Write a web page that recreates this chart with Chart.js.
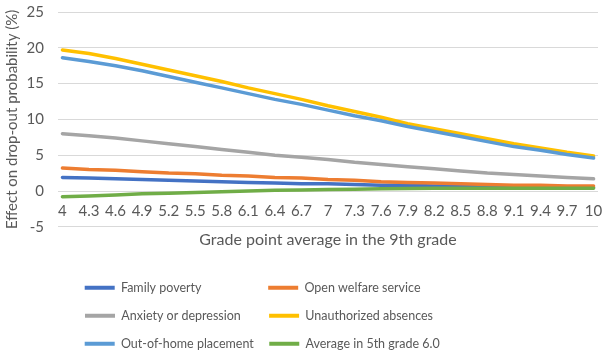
<!DOCTYPE html>
<html>
<head>
<meta charset="utf-8">
<script src="https://cdn.jsdelivr.net/npm/chart.js@4.4.1/dist/chart.umd.min.js"></script>
<style>
  html, body { margin: 0; padding: 0; background: #fff; }
</style>
</head>
<body>
<canvas id="dropoutChart" width="606" height="358"></canvas>
<script>
// grade point average in the 9th grade (labelled x positions)
const gradePoints = [4, 4.3, 4.6, 4.9, 5.2, 5.5, 5.8, 6.1, 6.4, 6.7, 7, 7.3, 7.6, 7.9, 8.2, 8.5, 8.8, 9.1, 9.4, 9.7, 10];

// effect on drop-out probability (%), read at each labelled grade
const familyPoverty = [1.9, 1.8, 1.7, 1.6, 1.5, 1.4, 1.3, 1.2, 1.1, 1.0, 1.0, 0.9, 0.8, 0.8, 0.7, 0.7, 0.6, 0.6, 0.5, 0.5, 0.5];
const openWelfare = [3.2, 3.0, 2.9, 2.7, 2.5, 2.4, 2.2, 2.1, 1.9, 1.8, 1.6, 1.5, 1.3, 1.2, 1.1, 1.0, 0.9, 0.8, 0.8, 0.7, 0.7];
const anxietyDepression = [8.0, 7.7, 7.4, 7.0, 6.6, 6.2, 5.8, 5.4, 5.0, 4.7, 4.4, 4.0, 3.7, 3.4, 3.1, 2.8, 2.5, 2.3, 2.1, 1.9, 1.7];
const unauthorizedAbsences = [19.7, 19.2, 18.5, 17.7, 16.9, 16.1, 15.3, 14.4, 13.6, 12.8, 11.9, 11.1, 10.3, 9.4, 8.7, 8.0, 7.3, 6.6, 6.0, 5.4, 4.9];
const outOfHome = [18.6, 18.1, 17.5, 16.8, 16.0, 15.2, 14.4, 13.6, 12.8, 12.1, 11.3, 10.5, 9.8, 9.0, 8.3, 7.6, 6.9, 6.2, 5.7, 5.1, 4.6];
const average5th = [-0.8, -0.7, -0.55, -0.4, -0.3, -0.2, -0.1, 0.0, 0.1, 0.15, 0.2, 0.25, 0.3, 0.35, 0.4, 0.4, 0.4, 0.4, 0.4, 0.4, 0.4];

const seriesNames = ['Family poverty', 'Open welfare service', 'Anxiety or depression',
  'Unauthorized absences', 'Out-of-home placement', 'Average in 5th grade 6.0'];
const seriesValues = [familyPoverty, openWelfare, anxietyDepression, unauthorizedAbsences, outOfHome, average5th];
const seriesColors = ['#4472C4', '#ED7D31', '#A5A5A5', '#FFC000', '#5B9BD5', '#70AD47'];

const textColor = '#595959';
const fontFamily = 'Lato';
const legendFontSize = 12.5;
const legendBoxWidth = 30;
const legendPadding = 15.5;
const legendRowWidth = 446; // both rows get this width so the columns line up

Chart.defaults.font.family = fontFamily;
Chart.defaults.font.size = 15;
Chart.defaults.color = textColor;

const datasets = seriesNames.map((name, i) => ({
  label: name,
  data: gradePoints.map((g, j) => ({ x: g, y: seriesValues[i][j] })),
  borderColor: seriesColors[i],
  backgroundColor: seriesColors[i],
  borderWidth: 3.5,
  borderCapStyle: 'round',
  borderJoinStyle: 'round',
  pointRadius: 0,
  fill: false,
  order: seriesNames.length - i // later series drawn on top, like Excel
}));

// pad legend texts with spaces so the two columns line up
function legendLabels(chart) {
  const items = Chart.defaults.plugins.legend.labels.generateLabels(chart)
    .sort((a, b) => a.datasetIndex - b.datasetIndex);
  const ctx = chart.ctx;
  ctx.save();
  ctx.font = legendFontSize + 'px ' + fontFamily;
  let col1 = 0;
  items.forEach((it, i) => {
    if (i % 2 === 0) col1 = Math.max(col1, ctx.measureText(it.text).width);
  });
  const itemExtra = legendBoxWidth + legendFontSize / 2 + legendPadding;
  const targets = [col1, legendRowWidth - 2 * itemExtra - col1];
  items.forEach((it, i) => {
    while (ctx.measureText(it.text + ' ').width <= targets[i % 2]) it.text += ' ';
    it.lineWidth = 0;
  });
  ctx.restore();
  return items;
}

const ctx = document.getElementById('dropoutChart').getContext('2d');
const chart = new Chart(ctx, {
  type: 'line',
  data: { datasets },
  options: {
    responsive: false,
    animation: false,
    layout: { padding: { top: 12, right: 8, bottom: -2, left: 0 } },
    scales: {
      x: {
        type: 'linear',
        min: 3.95,
        max: 10.05,
        position: { y: 0 },
        grid: { color: 'rgba(0,0,0,0)', tickLength: 11 },
        border: { display: false },
        afterBuildTicks: (scale) => { scale.ticks = gradePoints.map(v => ({ value: v })); },
        afterFit: (scale) => { scale.height = 0; },
        ticks: { autoSkip: false, maxRotation: 0, padding: 0, callback: (v) => String(v) }
      },
      y: {
        min: -5,
        max: 25,
        afterFit: (scale) => { scale.width = 58; },
        ticks: { stepSize: 5, padding: 2 },
        grid: { color: '#d9d9d9', tickColor: 'rgba(0,0,0,0)', tickLength: 12 },
        border: { display: false },
        title: {
          display: true,
          text: 'Effect on drop-out probability (%)',
          padding: { top: 3, bottom: 8 }
        }
      }
    },
    plugins: {
      tooltip: { enabled: false },
      title: {
        display: true,
        position: 'bottom',
        fullSize: false,
        weight: 500,
        text: 'Grade point average in the 9th grade',
        color: textColor,
        font: { size: 16, weight: 'normal' },
        padding: { top: 3, bottom: 17 }
      },
      legend: {
        position: 'bottom',
        labels: {
          boxWidth: legendBoxWidth,
          boxHeight: 4,
          padding: legendPadding,
          color: textColor,
          font: { size: legendFontSize },
          generateLabels: legendLabels
        }
      }
    }
  }
});
</script>
</body>
</html>
